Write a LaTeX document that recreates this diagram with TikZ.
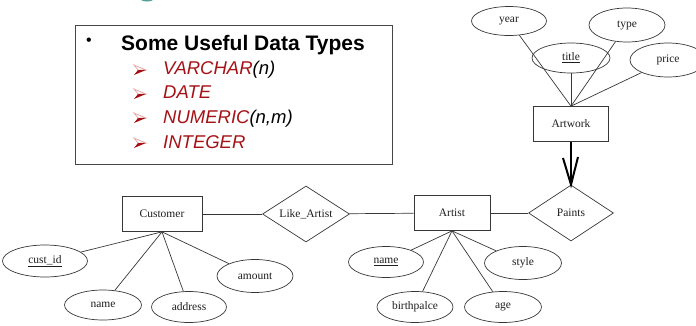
\documentclass[tikz,border=0pt]{standalone}
\usepackage{fontspec}
\setmainfont{Liberation Serif}
\newfontfamily\arialf{Liberation Sans}
\usetikzlibrary{shapes.geometric}
\definecolor{dred}{RGB}{165,18,22}
\definecolor{lred}{RGB}{235,170,170}
\definecolor{erline}{RGB}{55,55,55}
\definecolor{ertext}{RGB}{30,30,30}
\definecolor{boxgray}{RGB}{70,70,70}
\definecolor{tealc}{RGB}{80,160,150}
\begin{document}
\begin{tikzpicture}[x=1pt,y=-1pt,
  attr/.style={ellipse,draw=erline,line width=0.7pt,minimum width=76pt,minimum height=31pt,inner sep=0pt,text=ertext,font=\fontsize{11.5}{13}\selectfont},
  ent/.style={rectangle,draw=erline,line width=0.7pt,minimum width=76pt,minimum height=35pt,inner sep=0pt,text=ertext,font=\fontsize{11.5}{13}\selectfont},
  rel/.style={diamond,draw=erline,line width=0.7pt,shape aspect=1.5,minimum width=86pt,minimum height=56pt,inner sep=0pt,text=ertext,font=\fontsize{11.5}{13}\selectfont},
  conn/.style={draw=erline,line width=0.7pt},
  item/.style={anchor=base west,inner sep=0pt,font=\arialf\itshape\fontsize{18.5}{20}\selectfont},
  arrowhd/.pic={
    \draw[lred,line width=0.8pt,line join=miter] (-6,-5) -- (6,0) -- (-2,0) -- cycle;
    \fill[dred] (-2,0) -- (6,0) -- (-6,5) -- cycle;
  }
]
\useasboundingbox (0,0) rectangle (696,325);
% teal fragment at top
\fill[tealc] (141,0) -- (153,0) .. controls (151,2) and (143,2) .. (141,0) -- cycle;

% text box
\node[draw=boxgray,line width=1.3pt,minimum width=317pt,minimum height=139pt,inner sep=0pt,anchor=north west] (box) at (75,25) {};
\node[inner sep=0pt,font=\arialf\fontsize{16}{18}\selectfont] (bul) at (89,42) {•};
\node[anchor=base west,inner sep=0pt,font=\arialf\bfseries\fontsize{21}{24}\selectfont] (hdr) at (121,50) {Some Useful Data Types};
\pic at (140,70) {arrowhd};
\pic at (140,94) {arrowhd};
\pic at (140,118) {arrowhd};
\pic at (140,143) {arrowhd};
\node[item] (i1) at (163,74) {\textcolor{dred}{VARCHAR}(n)};
\node[item] (i2) at (163,98) {\textcolor{dred}{DATE}};
\node[item] (i3) at (163,123) {\textcolor{dred}{NUMERIC}(n,m)};
\node[item] (i4) at (163,148) {\textcolor{dred}{INTEGER}};

% Artwork part
\node[attr,minimum width=75pt,minimum height=29pt] (year) at (509,21) {year};
\node[attr,minimum height=34pt] (type) at (627,25) {type};
\node[attr,minimum width=78pt,minimum height=30pt] (title) at (571,58) {\underline{title}};
\node[attr,minimum width=76pt,minimum height=34pt] (price) at (668,60) {price};
\node[ent,minimum width=75pt] (artwork) at (571,124) {Artwork};
\draw[conn] (year) -- (artwork.north);
\draw[conn] (type) -- (artwork.north);
\draw[conn] (title) -- (artwork.north);
\draw[conn] (price) -- (artwork.north);

\node[rel,minimum width=85pt] (paints) at (571,213) {Paints};
\draw[draw=black,line width=2pt] (artwork.south) -- (paints.north);
\draw[draw=black,line width=2pt,line join=miter] (563,158) -- (paints.north) -- (578,157);

% Artist
\node[ent] (artist) at (452,213) {Artist};
\draw[conn] (artist) -- (paints);
\node[attr,minimum width=75pt] (aname) at (386,262) {\underline{name}};
\node[attr,minimum width=77pt,minimum height=33pt] (style) at (523,263) {style};
\node[attr] (birth) at (415,307) {birthpalce};
\node[attr,minimum width=77pt] (age) at (503,307) {age};
\draw[conn] (artist.south) -- (aname);
\draw[conn] (artist.south) -- (birth);
\draw[conn] (artist.south) -- (age);
\draw[conn] (artist.south) -- (style);

% Customer
\node[ent,minimum width=80pt] (cust) at (162,214) {Customer};
\node[rel,minimum width=87pt] (like) at (306,214) {Like\_Artist};
\draw[conn] (cust) -- (like);
\draw[conn] (like) -- (artist);
\node[attr,minimum width=85pt,minimum height=32pt] (cid) at (45,261) {\underline{cust\_id}};
\node[attr,minimum width=77pt,minimum height=30pt] (cname) at (103,305) {name};
\node[attr,minimum width=75pt] (addr) at (189,307) {address};
\node[attr,minimum height=33pt] (amount) at (255,276) {amount};
\draw[conn] (cust.south) -- (cid);
\draw[conn] (cust.south) -- (cname);
\draw[conn] (cust.south) -- (addr);
\draw[conn] (cust.south) -- (amount);
\end{tikzpicture}
\end{document}
